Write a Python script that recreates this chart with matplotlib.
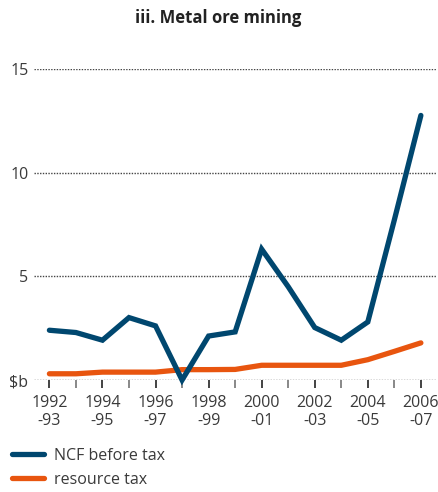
import matplotlib
matplotlib.use("Agg")
import matplotlib.pyplot as plt
from matplotlib.lines import Line2D

years = list(range(1992, 2007))
tick_labels = ["1992\n-93", "1994\n-95", "1996\n-97", "1998\n-99", "2000\n-01",
               "2002\n-03", "2004\n-05", "2006\n-07"]
ncf = [2.40, 2.29, 1.92, 3.01, 2.61, 0.0, 2.12, 2.32, 6.31, 4.50, 2.53, 1.92, 2.80, 7.72, 12.76]
rtax = [0.30, 0.30, 0.38, 0.38, 0.38, 0.50, 0.50, 0.51, 0.71, 0.71, 0.71, 0.71, 0.98, 1.38, 1.79]
y_ticks = [0, 5, 10, 15]
y_labels = ["$b", "5", "10", "15"]

plt.rcParams['font.family'] = ['Open Sans', 'DejaVu Sans']
navy = "#00476f"
orange = "#e8550f"
txt = "#3a3a3a"

fig = plt.figure(figsize=(4.39, 4.92), dpi=100)
ax = fig.add_axes([34/439, 1-380/492, (436-34)/439, (380-69)/492])
ax.set_xlim(1991.42, 2006.57)
ax.set_ylim(0, 15)

for yv in y_ticks:
    ax.axhline(yv, color="#444444", lw=1.0, ls=(0, (1.0, 1.0)), zorder=1)

ax.plot(years, rtax, color=orange, lw=3.8, solid_capstyle="round", clip_on=False, zorder=3)
ax.plot(years, ncf, color=navy, lw=3.8, solid_capstyle="round", solid_joinstyle="miter",
        clip_on=False, zorder=4)

for s in ax.spines.values():
    s.set_visible(False)

ax.set_yticks(y_ticks)
ax.set_yticklabels(y_labels, fontsize=11.5, color=txt)
ax.tick_params(axis="y", length=0, pad=4)

ax.set_xticks(years[::2])
ax.set_xticklabels(tick_labels, fontsize=11.5, color=txt, linespacing=1.15)
ax.set_xticks(years[1::2], minor=True)
ax.tick_params(axis="x", which="major", length=6, width=1.2, color="#222222", direction="out", pad=5)
ax.tick_params(axis="x", which="minor", length=6, width=1.4, color="#888888", direction="out")

fig.text(218/439, 1-18/492, "iii. Metal ore mining", ha="center", va="center",
         fontsize=12, fontweight="bold", color="#222222")

handles = [Line2D([], [], color=navy, lw=3.8, solid_capstyle="round"),
           Line2D([], [], color=orange, lw=3.8, solid_capstyle="round")]
fig.legend(handles, ["NCF before tax", "resource tax"], loc="upper left",
           bbox_to_anchor=(12/439, 1-448/492), frameon=False, fontsize=11.5,
           handlelength=2.0, handletextpad=0.6, labelspacing=0.5, labelcolor=txt,
           borderaxespad=0, borderpad=0)

fig.savefig("out.png", dpi=100)
